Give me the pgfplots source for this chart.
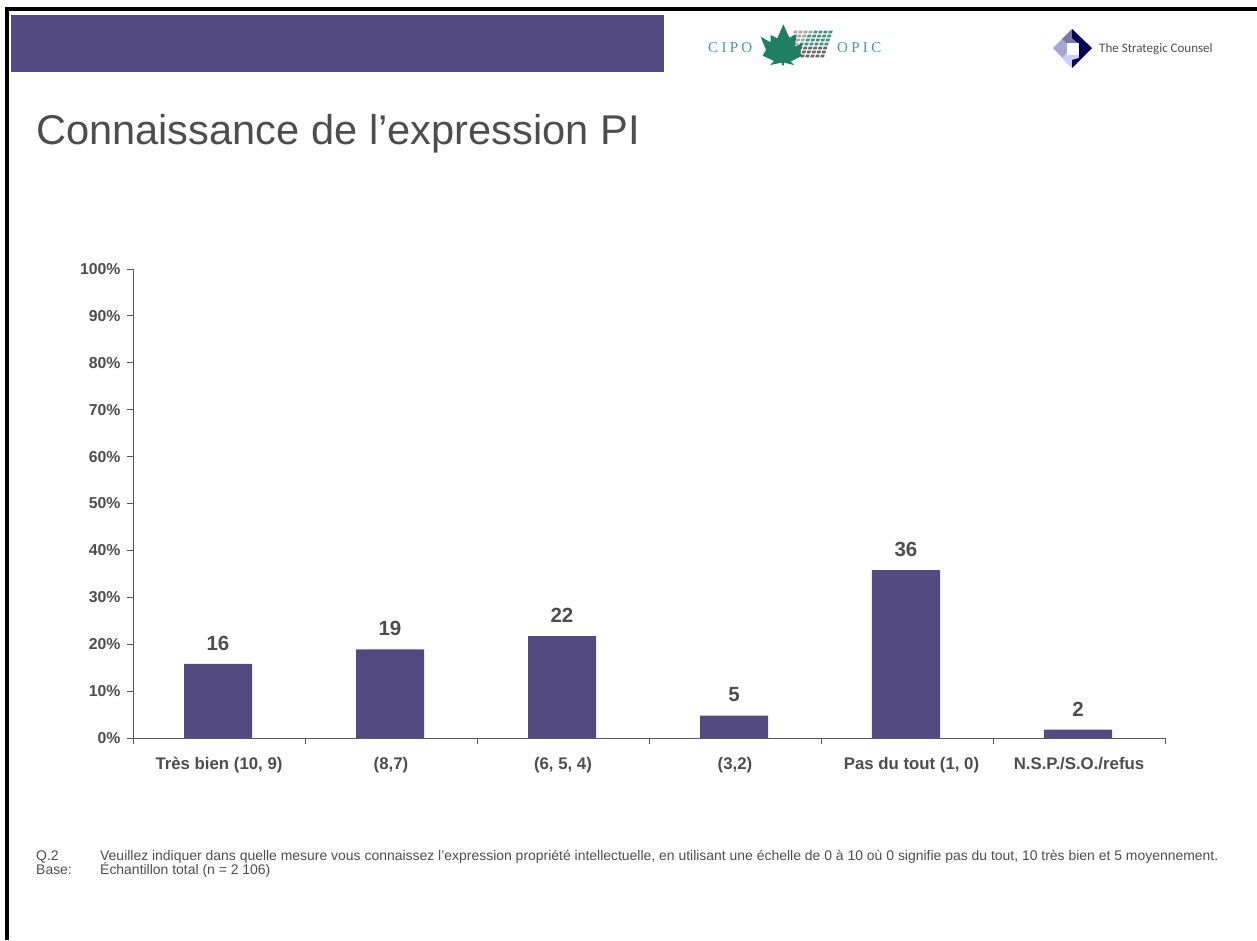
\documentclass[border=0pt]{standalone}
\usepackage{fontspec}
\setmainfont{Liberation Sans}
\newfontfamily\logoserif[LetterSpace=22]{Liberation Serif}
\newfontfamily\logosans{Carlito}
\usepackage{pgfplots}
\pgfplotsset{compat=1.18}
\definecolor{barpurple}{HTML}{534A82}
\definecolor{txtgray}{HTML}{4D4D4D}
\definecolor{axgray}{HTML}{595959}
\definecolor{logogreen}{HTML}{1E7F62}
\definecolor{logoteal}{HTML}{3FA08C}
% val is the bar height as drawn, lab the printed figure
\pgfplotstableread{
pos val lab
0 15.8 16
1 18.9 19
2 21.7 22
3 4.8 5
4 35.8 36
5 1.8 2
}\knowledge
\begin{document}
\begin{tikzpicture}[x=1pt,y=-1pt]
\useasboundingbox (0,0) rectangle (1257,940);
% frame and header band
\fill[black] (5,7) rectangle (1257,11);
\fill[black] (5,7) rectangle (9,940);
\fill[barpurple] (11,15) rectangle (664,72);
% CIPO logo
\node[anchor=base west,inner sep=0,text=logoteal,font=\logoserif\fontsize{15}{15}\selectfont] at (708,52) {CIPO};
\node[anchor=base west,inner sep=0,text=logoteal,font=\logoserif\fontsize{15}{15}\selectfont] at (837,52) {OPIC};
\begin{scope}[shift={(700,15)},x=0.3333pt,y=-0.3333pt]
\foreach \r in {0,...,6}{
  \foreach \c in {0,...,7}{
    \pgfmathsetmacro{\xa}{282+\c*15-\r*4}
    \pgfmathsetmacro{\ya}{47+\r*12}
    \pgfmathtruncatemacro{\isgreen}{(\c+0.6*\r)>3.5 && \r<4 ? 1 : 0}
    \pgfmathtruncatemacro{\isdark}{\r>3 ? 1 : 0}
    \ifnum\isgreen=1 \def\cellc{logogreen!85}\else\ifnum\isdark=1 \def\cellc{black!60}\else\def\cellc{black!35}\fi\fi
    \fill[\cellc] (\xa,\ya) -- ++(11,0) -- ++(-2,8) -- ++(-11,0) -- cycle;
  }
}
\fill[logogreen] (250,28) -- (268,68) -- (290,58) -- (284,95) -- (308,85) -- (300,112) -- (306,122)
  -- (272,140) -- (282,150) -- (252,143) -- (251,152) -- (247,152) -- (246,143) -- (210,150) -- (222,138)
  -- (188,122) -- (198,105) -- (182,65) -- (212,82) -- (212,60) -- (232,70) -- cycle;
\end{scope}
% Strategic Counsel logo
\fill[black!45!blue!35!white] (1053,48) -- (1072,29) -- (1072,68) -- cycle;
\fill[barpurple!75] (1062,39) -- (1072,29) -- (1082,39) -- (1072,48) -- cycle;
\fill[black!15!blue!20!white] (1062,58) -- (1072,48) -- (1082,58) -- (1072,68) -- cycle;
\fill[blue!35!black] (1072,29) -- (1092,48) -- (1072,68) -- (1072,60) -- (1079,58) -- (1079,44) -- (1072,38) -- cycle;
\fill[white] (1067,43) rectangle (1079,55);
\node[anchor=base west,inner sep=0,text=txtgray,font=\logosans\fontsize{13}{13}\selectfont] at (1099,52) {The Strategic Counsel};
% title
\node[anchor=base west,inner sep=0,text=txtgray,font=\fontsize{41.6}{41.6}\selectfont] at (36,144) {Connaissance de l’expression PI};
% chart
\begin{axis}[
  at={(133pt,-738pt)},
  anchor=south west,
  scale only axis,
  width=1032pt,
  height=469pt,
  axis lines=left,
  axis line style={-,draw=axgray,line width=1pt},
  ymin=0, ymax=100,
  xmin=-0.5, xmax=5.5,
  ytick={0,10,...,100},
  yticklabels={0\%,10\%,20\%,30\%,40\%,50\%,60\%,70\%,80\%,90\%,100\%},
  xtick={0,...,5},
  xticklabels={{Très bien (10, 9)},{(8,7)},{(6, 5, 4)},{(3,2)},{\hspace*{9pt}Pas du tout (1, 0)},{N.S.P./S.O./refus}},
  minor xtick={-0.5,0.5,...,5.5},
  tick align=outside,
  major tick length=6pt,
  minor tick length=6pt,
  tick style={draw=axgray,line width=1pt},
  major x tick style={draw=none},
  x tick label style={font=\fontsize{16.8}{16.8}\selectfont\bfseries,text=txtgray,yshift=-10pt},
  y tick label style={font=\fontsize{15.8}{15.8}\selectfont\bfseries,text=txtgray,xshift=-3pt},
  ybar,
  bar width=68pt,
  bar shift=-1pt,
  nodes near coords,
  point meta=explicit,
  /pgf/number format/assume math mode=true,
  every node near coord/.append style={font=\fontsize{20.5}{20.5}\selectfont\bfseries,text=txtgray,yshift=10pt},
]
\addplot[fill=barpurple,draw=none] table[x=pos,y=val,meta=lab] {\knowledge};
\end{axis}
% footnotes
\begin{scope}[every node/.style={anchor=base west,inner sep=0,text=txtgray,font=\fontsize{13.95}{13.95}\selectfont}]
\node at (36,860) {Q.2};
\node at (100,860) {Veuillez indiquer dans quelle mesure vous connaissez l’expression propriété intellectuelle, en utilisant une échelle de 0 à 10 où 0 signifie pas du tout, 10 très bien et 5 moyennement.};
\node at (36,874) {Base:};
\node at (100,874) {Échantillon total (n = 2 106)};
\end{scope}
\end{tikzpicture}
\end{document}
